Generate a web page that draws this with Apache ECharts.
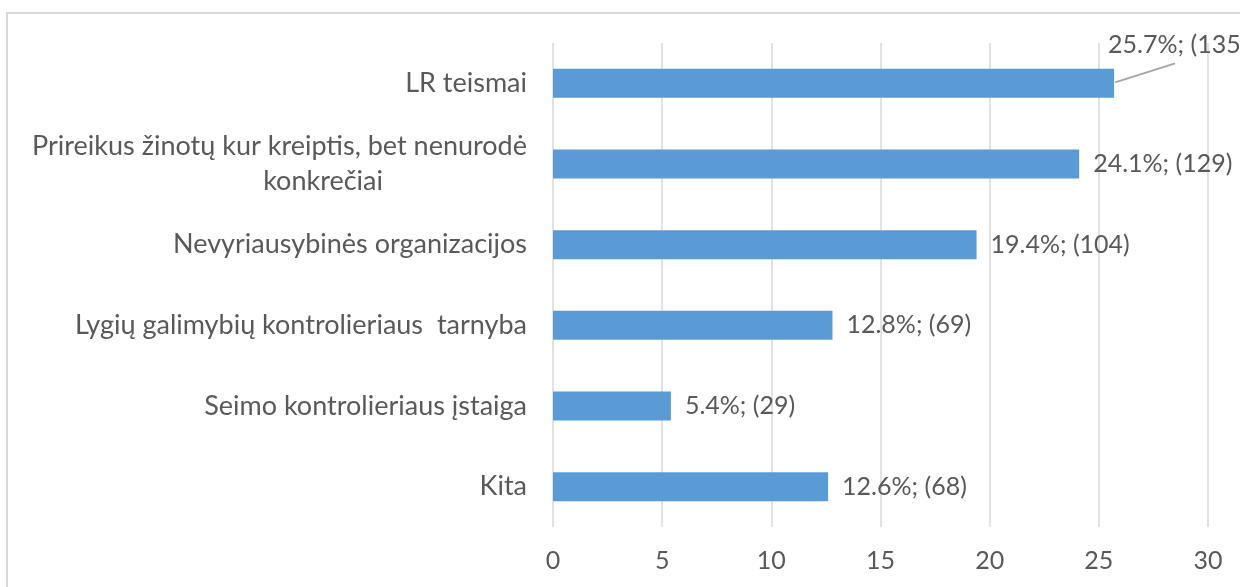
<!DOCTYPE html>
<html>
<head>
<meta charset="utf-8">
<script src="https://cdn.jsdelivr.net/npm/echarts@6/dist/echarts.min.js"></script>
<style>
  html, body { margin: 0; padding: 0; background: #fff; overflow: hidden; }
  #frame { position: absolute; left: 6px; top: 12px; width: 1260px; height: 600px; border: 2px solid #d9d9d9; box-sizing: border-box; }
  #chart { position: absolute; left: 0; top: 0; width: 1240px; height: 587px; }
</style>
</head>
<body>
<div id="frame"></div>
<div id="chart"></div>
<script>
// kategorijos (iš viršaus į apačią)
var categories = [
  "LR teismai",
  "Prireikus žinotų kur kreiptis, bet nenurodė\nkonkrečiai",
  "Nevyriausybinės organizacijos",
  "Lygių galimybių kontrolieriaus  tarnyba",
  "Seimo kontrolieriaus įstaiga",
  "Kita"
];
var percents = [25.7, 24.1, 19.4, 12.8, 5.4, 12.6];
var counts = [135, 129, 104, 69, 29, 68];
var xTicks = { min: 0, max: 30, interval: 5 };

var textColor = "#595959";
var fontFamily = "Lato, 'Open Sans', sans-serif";

var chart = echarts.init(document.getElementById("chart"));
chart.setOption({
  animation: false,
  grid: { left: 553, right: 32, top: 43, bottom: 60 },
  xAxis: {
    type: "value",
    min: xTicks.min,
    max: xTicks.max,
    interval: xTicks.interval,
    axisLine: { show: false },
    axisTick: { show: false },
    axisLabel: { color: textColor, fontSize: 25, margin: 21, fontFamily: fontFamily },
    splitLine: { lineStyle: { color: "#d9d9d9", width: 1.5 } }
  },
  yAxis: {
    type: "category",
    inverse: true,
    data: categories,
    axisLine: { show: false },
    axisTick: { show: false },
    axisLabel: {
      color: textColor,
      fontSize: 27,
      margin: 26,
      fontFamily: fontFamily,
      lineHeight: 35,
      formatter: function (v) {
        var parts = v.split("\n");
        if (parts.length > 1) {
          return "{a|" + parts[0] + "}\n{b|" + parts[1] + "}";
        }
        return v;
      },
      rich: {
        a: { color: textColor, fontSize: 27, fontFamily: fontFamily, lineHeight: 35 },
        b: { color: textColor, fontSize: 27, fontFamily: fontFamily, lineHeight: 35, padding: [0, 144, 0, 0] }
      }
    }
  },
  series: [
    {
      type: "bar",
      data: percents,
      barWidth: 29,
      itemStyle: { color: "#5b9bd5" },
      label: {
        show: true,
        position: "right",
        distance: 14,
        color: textColor,
        fontSize: 25,
        fontFamily: fontFamily,
        formatter: function (p) {
          return p.value + "%; (" + counts[p.dataIndex] + ")";
        }
      },
      labelLayout: function (p) {
        // pirmo stulpelio etiketė pakelta virš stulpelio
        if (p.dataIndex === 0) {
          return { dx: -20, dy: -38 };
        }
        return {};
      }
    }
  ]
});

// linija nuo pirmo stulpelio galo iki pakeltos etiketės
var barEnd = chart.convertToPixel({ seriesIndex: 0 }, [percents[0], 0]);
chart.setOption({
  graphic: [{
    type: "line",
    silent: true,
    z: 10,
    shape: { x1: barEnd[0] + 1, y1: barEnd[1] - 1, x2: barEnd[0] + 61, y2: barEnd[1] - 20 },
    style: { stroke: "#a6a6a6", lineWidth: 2 }
  }]
});
</script>
</body>
</html>
